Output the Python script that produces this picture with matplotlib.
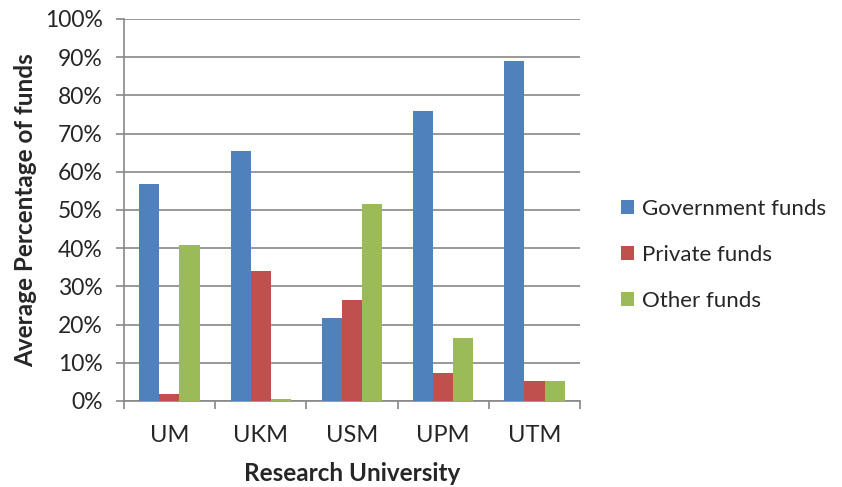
import matplotlib
matplotlib.use("Agg")
import matplotlib.pyplot as plt
import numpy as np
from matplotlib.ticker import FuncFormatter, MultipleLocator

categories = ["UM", "UKM", "USM", "UPM", "UTM"]
government = [56.8, 65.4, 21.7, 75.9, 89.1]
private = [1.9, 33.9, 26.4, 7.2, 5.3]
other = [40.8, 0.4, 51.5, 16.5, 5.3]
series_names = ["Government funds", "Private funds", "Other funds"]
colors = ["#4F81BD", "#C0504D", "#9BBB59"]

plt.rcParams['font.family'] = ['Lato', 'DejaVu Sans']
text_color = '#262626'

fig = plt.figure(figsize=(8.42, 4.87), dpi=100)
ax = fig.add_axes([0.147, 0.1766, 0.542, 0.7844])

x = np.arange(len(categories))
w = 0.22
for i, (vals, name, c) in enumerate(zip([government, private, other], series_names, colors)):
    ax.bar(x + (i - 1) * w, vals, w, color=c, label=name, zorder=3)

ax.set_xlim(-0.5, len(categories) - 0.5)
ax.set_ylim(0, 100)
ax.yaxis.set_major_locator(MultipleLocator(10))
ax.yaxis.set_major_formatter(FuncFormatter(lambda v, p: f"{int(round(v))}%"))
ax.grid(axis='y', color='#888888', linewidth=1.2, zorder=0)
ax.set_axisbelow(True)

for s in ['top', 'right']:
    ax.spines[s].set_visible(False)
ax.spines['left'].set_color('#888888')
ax.spines['bottom'].set_color('#888888')
ax.spines['left'].set_linewidth(1.2)
ax.spines['bottom'].set_linewidth(1.2)

ax.set_xticks(x)
ax.set_xticklabels(categories, fontsize=17, color=text_color)
ax.set_xticks(np.arange(-0.5, len(categories)), minor=True)
ax.tick_params(axis='x', which='major', length=0, pad=17)
ax.tick_params(axis='x', which='minor', length=6, color='#888888', width=1.2)
ax.tick_params(axis='y', labelsize=16.5, labelcolor=text_color, length=6, color='#888888', width=1.2, pad=9)

ax.set_xlabel("Research University", fontsize=17.5, fontweight='bold', labelpad=12, color=text_color)
ax.set_ylabel("Average Percentage of funds", fontsize=17.5, fontweight='bold', labelpad=6, color=text_color)

leg = fig.legend(loc='center left', bbox_to_anchor=(0.7135, 0.4764), frameon=False,
                 fontsize=16, handlelength=0.6, handleheight=0.6, labelspacing=1.17,
                 handletextpad=0.35, labelcolor=text_color)

fig.savefig("out.png", dpi=100)
